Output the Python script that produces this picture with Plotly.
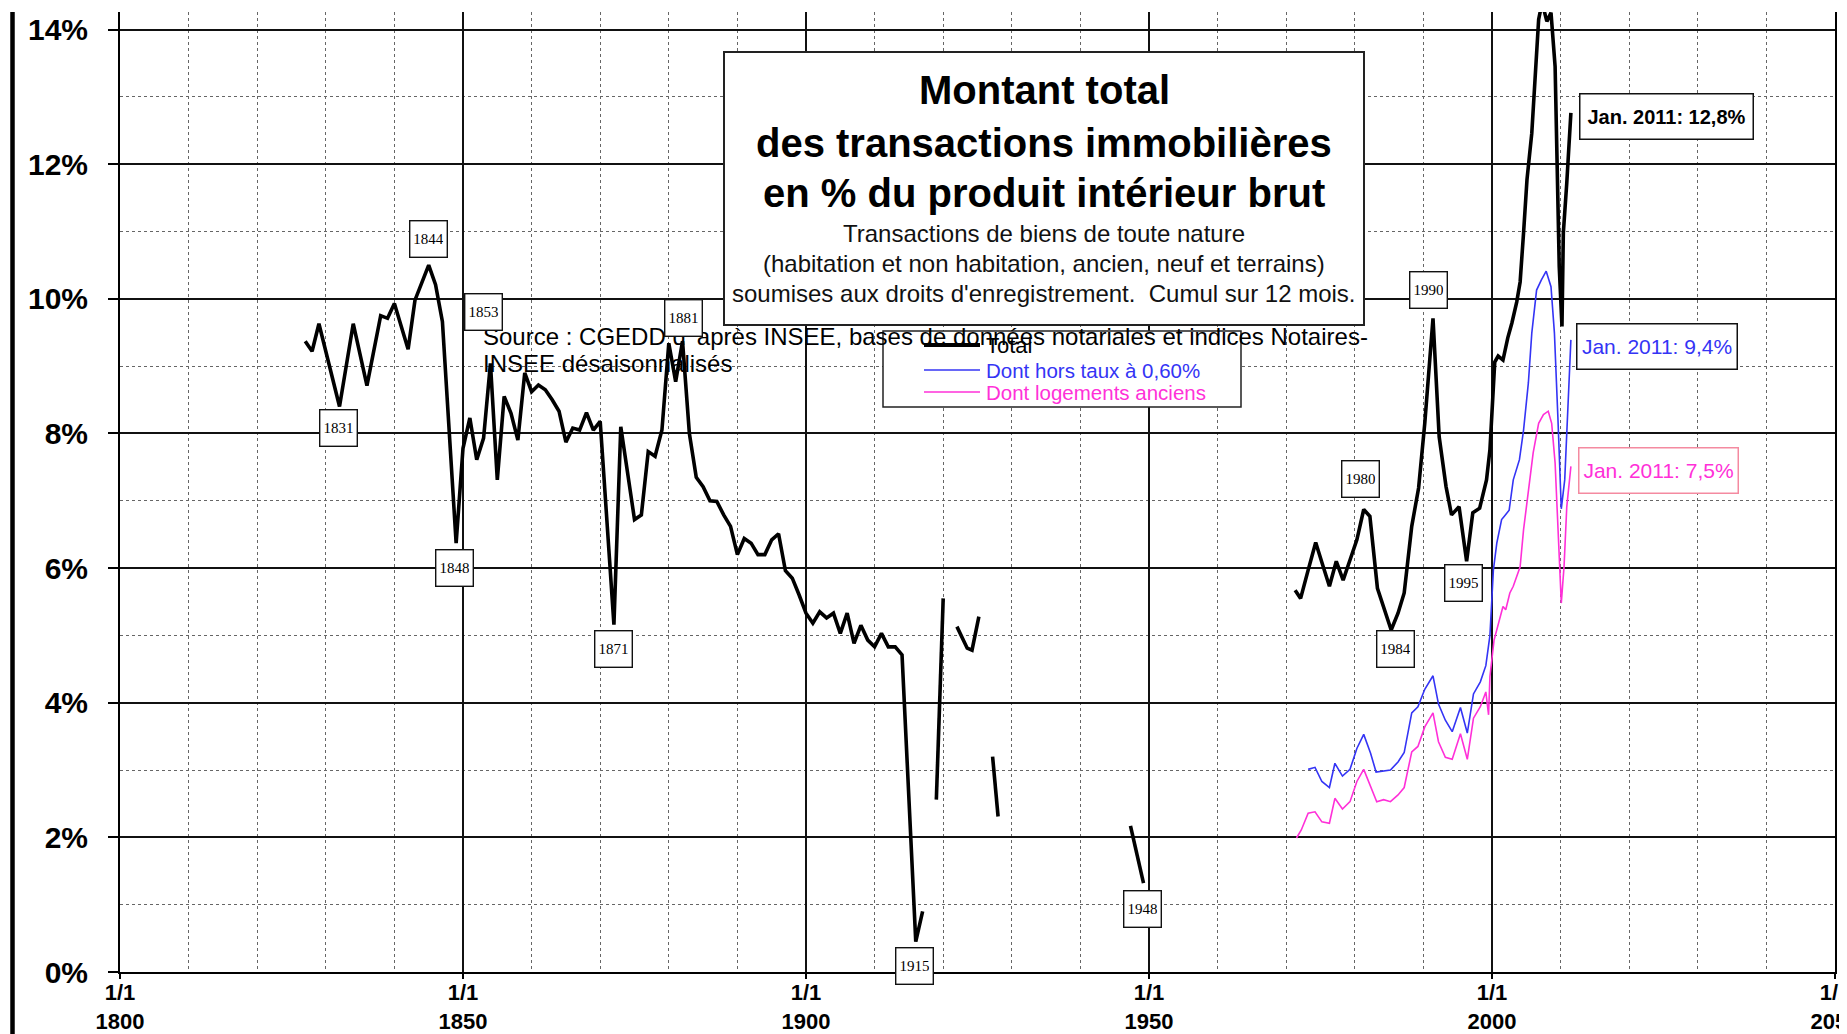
import plotly.graph_objects as go

# ---------------- DATA ----------------
# Total (black) : position on the time axis (decimal year) and % of GDP ; None = no data (gap)
total_x = [1827.0, 1828.0, 1829.0, 1832.0, 1834.0, 1836.0, 1838.0, 1839.0, 1840.0, 1842.0,
           1843.0, 1845.0, 1846.0, 1847.0, 1849.0, 1850.0, 1851.0, 1852.0, 1853.0, 1854.0,
           1855.0, 1856.0, 1857.0, 1858.0, 1859.0, 1860.0, 1861.0, 1862.0, 1863.0, 1864.0,
           1865.0, 1866.0, 1867.0, 1868.0, 1869.0, 1870.0, 1872.0, 1873.0, 1875.0, 1876.0,
           1877.0, 1878.0, 1879.0, 1880.0, 1881.0, 1882.0, 1883.0, 1884.0, 1885.0, 1886.0,
           1887.0, 1888.0, 1889.0, 1890.0, 1891.0, 1892.0, 1893.0, 1894.0, 1895.0, 1896.0,
           1897.0, 1898.0, 1899.0, 1900.0, 1901.0, 1902.0, 1903.0, 1904.0, 1905.0, 1906.0,
           1907.0, 1908.0, 1909.0, 1910.0, 1911.0, 1912.0, 1913.0, 1914.0, 1916.0, 1917.0,
           1918.0, 1919.0, 1920.0,
           1921.0, 1922.0, 1923.5, 1924.2, 1925.2,
           1926.0, 1927.2, 1928.0,
           1938.0, 1947.3, 1949.2,
           1960.0,
           1971.3, 1972.1, 1973.2, 1974.3, 1975.4, 1976.3, 1977.3, 1978.3, 1979.3, 1980.3,
           1981.3, 1982.2, 1983.3, 1984.3, 1985.3, 1986.3, 1987.2, 1988.3, 1989.3, 1990.2,
           1991.4, 1992.3, 1993.3, 1994.1, 1995.2, 1996.3, 1997.2, 1998.2, 1999.2, 1999.7,
           2000.4, 2000.9, 2001.6, 2002.3, 2002.9, 2003.6, 2004.1, 2004.6, 2005.1, 2005.8,
           2006.4, 2006.8, 2007.3, 2008.0, 2008.6, 2008.8, 2009.2, 2009.5, 2009.8, 2010.2,
           2010.4, 2010.9, 2011.5]
total_y = [9.37, 9.22, 9.63, 8.40, 9.63, 8.71, 9.75, 9.71, 9.93, 9.25,
           9.98, 10.50, 10.21, 9.66, 6.37, 7.78, 8.23, 7.61, 7.93, 9.04,
           7.31, 8.55, 8.30, 7.90, 8.90, 8.62, 8.72, 8.65, 8.50, 8.33,
           7.87, 8.08, 8.05, 8.31, 8.05, 8.18, 5.16, 8.10, 6.72, 6.79,
           7.73, 7.66, 8.05, 9.34, 8.77, 9.37, 8.00, 7.35, 7.21, 7.00,
           6.99, 6.79, 6.62, 6.20, 6.44, 6.37, 6.20, 6.20, 6.42, 6.51,
           5.96, 5.85, 5.60, 5.33, 5.18, 5.35, 5.26, 5.33, 5.03, 5.33,
           4.88, 5.15, 4.93, 4.83, 5.03, 4.83, 4.83, 4.71, 0.45, 0.90,
           None, 2.56, 5.55,
           None, 5.13, 4.81, 4.78, 5.28,
           None, 3.20, 2.31,
           None, 2.17, 1.32,
           None,
           5.67, 5.55, 5.97, 6.38, 6.02, 5.73, 6.10, 5.82, 6.12, 6.42,
           6.87, 6.77, 5.70, 5.38, 5.08, 5.33, 5.63, 6.62, 7.19, 8.15,
           9.71, 7.95, 7.21, 6.79, 6.91, 6.10, 6.82, 6.89, 7.31, 7.76,
           9.06, 9.15, 9.09, 9.42, 9.64, 9.95, 10.25, 10.98, 11.77, 12.46,
           13.45, 14.15, 14.40, 14.12, 14.25, 14.00, 13.45, 11.97, 10.48, 9.59,
           10.98, 11.72, 12.76]

# Dont hors taux a 0,60 % (blue)
blue_x = [1973.2, 1974.2, 1975.2, 1976.3, 1977.1, 1978.2, 1979.3, 1980.3, 1981.3, 1982.3,
          1983.1, 1984.2, 1985.2, 1986.3, 1987.2, 1988.3, 1989.2, 1990.2, 1991.4, 1992.2,
          1993.2, 1994.2, 1995.4, 1996.4, 1997.3, 1998.3, 1999.1, 1999.7, 2000.2, 2000.7,
          2001.4, 2001.8, 2002.5, 2003.1, 2004.0, 2004.6, 2005.3, 2005.8, 2006.5, 2007.2,
          2007.9, 2008.6, 2009.1, 2009.6, 2010.1, 2010.6, 2011.0, 2011.5]
blue_y = [3.01, 3.04, 2.83, 2.74, 3.10, 2.91, 3.01, 3.32, 3.53, 3.25,
          2.97, 2.99, 3.00, 3.12, 3.26, 3.85, 3.94, 4.20, 4.40, 3.98,
          3.74, 3.57, 3.93, 3.55, 4.13, 4.31, 4.55, 5.00, 5.97, 6.37,
          6.72, 6.77, 6.86, 7.31, 7.61, 8.05, 8.75, 9.49, 10.13, 10.28,
          10.41, 10.18, 9.49, 8.25, 6.88, 7.31, 8.30, 9.39]

# Dont logements anciens (magenta)
pink_x = [1971.5, 1972.2, 1973.2, 1974.2, 1975.2, 1976.3, 1977.1, 1978.2, 1979.3, 1980.3,
          1981.3, 1982.3, 1983.2, 1984.2, 1985.2, 1986.3, 1987.2, 1988.3, 1989.2, 1990.2,
          1991.4, 1992.2, 1993.2, 1994.2, 1995.4, 1996.4, 1997.3, 1998.3, 1999.1, 1999.5,
          1999.7, 2000.3, 2001.2, 2001.6, 2002.0, 2002.6, 2003.1, 2004.1, 2004.6, 2005.3,
          2006.0, 2006.8, 2007.5, 2008.2, 2008.7, 2009.2, 2009.6, 2010.1, 2010.5, 2010.9,
          2011.5]
pink_y = [1.99, 2.11, 2.36, 2.38, 2.23, 2.21, 2.58, 2.42, 2.53, 2.83,
          3.01, 2.75, 2.53, 2.56, 2.53, 2.63, 2.74, 3.27, 3.35, 3.64,
          3.85, 3.42, 3.19, 3.16, 3.54, 3.16, 3.77, 3.94, 4.16, 3.82,
          4.39, 4.93, 5.28, 5.43, 5.38, 5.63, 5.73, 6.02, 6.57, 7.16,
          7.71, 8.15, 8.28, 8.33, 8.15, 7.56, 6.57, 5.48, 6.02, 6.91,
          7.51]

series_names = ["Total", "Dont hors taux à 0,60%", "Dont logements anciens"]
last_value_labels = ["Jan. 2011: 12,8%", "Jan. 2011: 9,4%", "Jan. 2011: 7,5%"]

x_tick_years = [1800, 1850, 1900, 1950, 2000, 2050]
x_tick_labels = ["1/1<br>" + str(y) for y in x_tick_years]
y_tick_vals = [0, 2, 4, 6, 8, 10, 12, 14]
y_tick_labels = [str(v) + "%" for v in y_tick_vals]

marked_years = ["1831", "1844", "1848", "1853", "1871", "1881", "1915", "1948",
                "1980", "1984", "1990", "1995"]

title_lines = ["Montant total", "des transactions immobilières", "en % du produit intérieur brut"]
subtitle_lines = ["Transactions de biens de toute nature",
                  "(habitation et non habitation, ancien, neuf et terrains)",
                  "soumises aux droits d'enregistrement.  Cumul sur 12 mois."]
source_lines = ["Source : CGEDD d’ après INSEE, bases de données notariales et indices Notaires-",
                "INSEE désaisonnalisés"]

# ---------------- STYLE / LAYOUT ----------------
# the page body has an 8px margin: the figure is shifted by it, so compensate
BODY = 8
W, H = 1847 - BODY, 1034 - BODY
PLOT_L, PLOT_R, PLOT_T, PLOT_B = 120, 1835, 12, 972      # wanted plot edges on the page
L, T = PLOT_L - BODY, PLOT_T - BODY
R, B = W - (PLOT_R - BODY), H - (PLOT_B - BODY)
PW, PH = PLOT_R - PLOT_L, PLOT_B - PLOT_T
X0, X1 = 1800, 2050
Y0, Y1 = 0, 14.26
SANS = "Liberation Sans, Arial, sans-serif"
SERIF = "Liberation Serif, Times New Roman, serif"
BLACK = "#000000"
BLUE = "#3434f5"
PINK = "#ff30d8"
PINK_BORDER = "#f48aa0"


def paper_x(px):
    return (px - PLOT_L) / PW


def paper_y(py):
    return (PLOT_B - py) / PH


fig = go.Figure()
fig.add_trace(go.Scatter(x=blue_x, y=blue_y, mode="lines", name=series_names[1],
                         line=dict(color=BLUE, width=1.6), showlegend=False))
fig.add_trace(go.Scatter(x=pink_x, y=pink_y, mode="lines", name=series_names[2],
                         line=dict(color=PINK, width=1.6), showlegend=False))
fig.add_trace(go.Scatter(x=total_x, y=total_y, mode="lines", name=series_names[0],
                         line=dict(color=BLACK, width=3.6), connectgaps=False,
                         showlegend=False))

shapes = []
annotations = []

# left frame line
shapes.append(dict(type="line", xref="paper", yref="paper",
                   x0=paper_x(12.5), x1=paper_x(12.5), y0=paper_y(12), y1=paper_y(1040),
                   line=dict(color=BLACK, width=4.5)))

# title box
shapes.append(dict(type="rect", xref="paper", yref="paper", layer="above",
                   x0=paper_x(724), x1=paper_x(1364), y0=paper_y(325), y1=paper_y(52),
                   fillcolor="white", line=dict(color="#222", width=2)))
cx = paper_x(1044)
for txt, py in zip(title_lines, [90, 143, 193]):
    annotations.append(dict(xref="paper", yref="paper", x=cx, y=paper_y(py), text=txt,
                            showarrow=False, xanchor="center", yanchor="middle",
                            font=dict(family=SANS, size=40, color=BLACK, weight="bold")))
for txt, py in zip(subtitle_lines, [233, 263, 294]):
    annotations.append(dict(xref="paper", yref="paper", x=cx, y=paper_y(py), text=txt,
                            showarrow=False, xanchor="center", yanchor="middle",
                            font=dict(family=SANS, size=24, color="#111")))

# legend box
shapes.append(dict(type="rect", xref="paper", yref="paper", layer="above",
                   x0=paper_x(883), x1=paper_x(1241), y0=paper_y(407), y1=paper_y(331),
                   fillcolor="white", line=dict(color="#222", width=1.5)))
legend_rows = [(series_names[0], BLACK, 4, 345, 22),
               (series_names[1], BLUE, 1.6, 370, 20.5),
               (series_names[2], PINK, 1.6, 392, 20.5)]
for name, col, lw, py, fs in legend_rows:
    shapes.append(dict(type="line", xref="paper", yref="paper", layer="above",
                       x0=paper_x(924), x1=paper_x(980), y0=paper_y(py), y1=paper_y(py),
                       line=dict(color=col, width=lw)))
    annotations.append(dict(xref="paper", yref="paper", x=paper_x(984), y=paper_y(py),
                            text=name, showarrow=False, xanchor="left", yanchor="middle",
                            font=dict(family=SANS, size=fs, color=col)))

# source text
for txt, py in zip(source_lines, [336, 363]):
    annotations.append(dict(xref="paper", yref="paper", x=paper_x(481), y=paper_y(py),
                            text=txt, showarrow=False, xanchor="left", yanchor="middle",
                            font=dict(family=SANS, size=24, color=BLACK)))

# year boxes (positions of the boxes on the chart)
year_box_pos = {"1831": (1831.8, 8.08), "1844": (1845.0, 10.89), "1848": (1848.8, 6.0),
                "1853": (1853.0, 9.81), "1871": (1872.0, 4.8), "1881": (1882.1, 9.72),
                "1915": (1915.8, 0.09), "1948": (1949.0, 0.93), "1980": (1980.9, 7.33),
                "1984": (1985.9, 4.8), "1990": (1990.8, 10.13), "1995": (1995.8, 5.78)}
for yr in marked_years:
    bx, by = year_box_pos[yr]
    annotations.append(dict(x=bx, y=by, xref="x", yref="y", text=yr, showarrow=False,
                            xanchor="center", yanchor="middle", width=30, height=29,
                            borderpad=3, borderwidth=1.4, bordercolor="#111",
                            bgcolor="white",
                            font=dict(family=SERIF, size=15, color=BLACK)))

# last-value boxes
last_box = [(2025.5, 12.71, BLACK, "#111", 166, "bold", 20),
            (2024.0, 9.29, BLUE, "#111", 153, "normal", 21),
            (2024.2, 7.45, PINK, PINK_BORDER, 152, "normal", 21)]
for txt, (bx, by, col, bcol, w, wt, fs) in zip(last_value_labels, last_box):
    annotations.append(dict(x=bx, y=by, xref="x", yref="y", text=txt, showarrow=False,
                            xanchor="center", yanchor="middle", width=w, height=38,
                            borderpad=3, borderwidth=1.5, bordercolor=bcol, bgcolor="white",
                            font=dict(family=SANS, size=fs, color=col, weight=wt)))

fig.update_layout(
    template="none",
    width=W, height=H,
    margin=dict(l=L, r=R, t=T, b=B, pad=0, autoexpand=False),
    paper_bgcolor="white", plot_bgcolor="white",
    showlegend=False,
    shapes=shapes, annotations=annotations,
    xaxis=dict(range=[X0, X1], tickmode="array", tickvals=x_tick_years,
               ticktext=x_tick_labels, ticks="outside", ticklen=5, tickwidth=2,
               tickcolor=BLACK, showline=True, linecolor=BLACK, linewidth=2,
               showgrid=True, gridcolor="#111", gridwidth=1.6, zeroline=False,
               automargin=False, ticklabeloverflow="allow",
               tickfont=dict(family=SANS, size=22, color=BLACK, weight="bold"),
               ticklabelstandoff=-5,
               minor=dict(tickmode="linear", tick0=1800, dtick=10, showgrid=True,
                          gridcolor="#666", griddash="dot", gridwidth=1, ticks="")),
    yaxis=dict(range=[Y0, Y1], tickmode="array", tickvals=y_tick_vals,
               ticktext=y_tick_labels, ticks="outside", ticklen=10, tickwidth=2,
               tickcolor=BLACK, showline=True, mirror=True, linecolor=BLACK, linewidth=2,
               showgrid=True, gridcolor="#111", gridwidth=1.6, zeroline=False,
               automargin=False, ticklabeloverflow="allow",
               tickfont=dict(family=SANS, size=30, color=BLACK, weight="bold"),
               ticklabelstandoff=14,
               minor=dict(tickmode="linear", tick0=0, dtick=1, showgrid=True,
                          gridcolor="#666", griddash="dot", gridwidth=1, ticks="")),
)

fig.write_html("out.html")
